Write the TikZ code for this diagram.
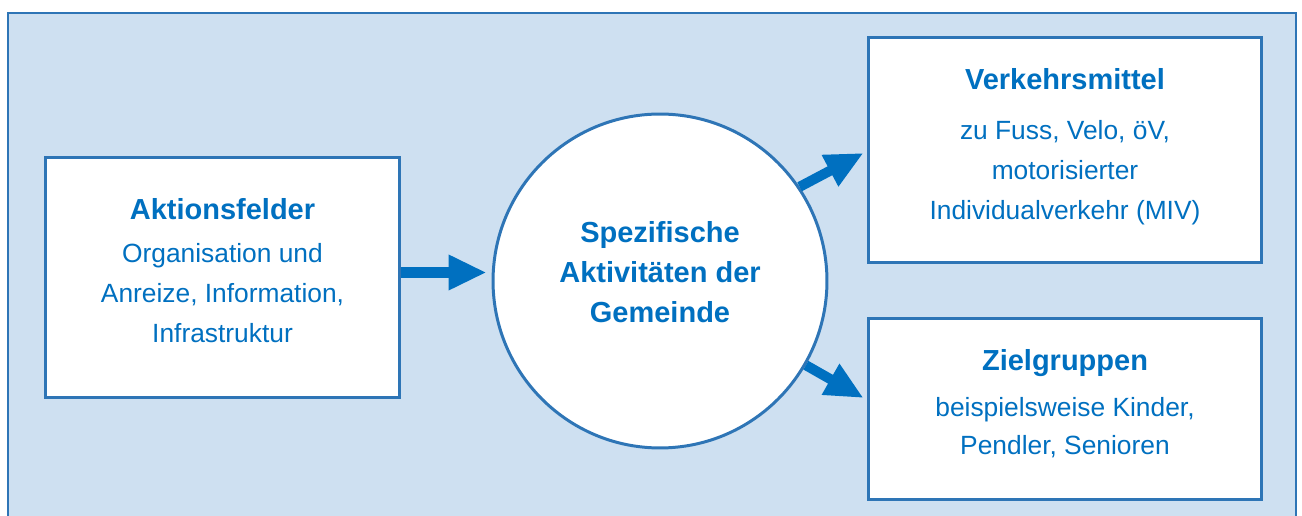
\documentclass[tikz,border=0pt]{standalone}
\usepackage{fontspec}
\setmainfont{Liberation Sans}
\usetikzlibrary{arrows.meta,positioning,calc}
\definecolor{rahmenblau}{RGB}{46,117,182}
\definecolor{textblau}{RGB}{0,112,192}
\definecolor{hellblau}{RGB}{206,224,241}
\newcommand{\titel}[1]{{\fontsize{16.5}{22.7}\selectfont\bfseries #1}}
% extra depth below the last line, lifts the text in its box
\newcommand{\tiefe}[1]{\rule[-#1]{0pt}{#1}}

\begin{document}
\begin{tikzpicture}[x=0.02cm,y=-0.02cm,
  kasten/.style={draw=rahmenblau,fill=white,line width=1.7pt,align=center,
    text=textblau,inner sep=0pt,font=\fontsize{15}{22.7}\selectfont},
  kreis/.style={kasten,circle,minimum size=6.68cm},
  pfeil/.style={draw=textblau,line width=5.7pt,
    -{Triangle[length=0.76cm,width=0.66cm]}}]
  % frame, open at the bottom
  \useasboundingbox (0,0) rectangle (1302,516);
  \draw[rahmenblau,fill=hellblau,line width=1.4pt] (8,13) rectangle (1296,540);

  % boxes and circle
  \node[kasten,minimum width=7.1cm,minimum height=4.82cm] (felder) at (222.5,277.5)
    {\titel{Aktionsfelder}\\[1.7pt]
     Organisation und\\ Anreize, Information,\\ Infrastruktur\tiefe{8pt}};
  \node[kreis] (aktiv) at (660,281)
    {\titel{Spezifische}\\ \titel{Aktivitäten der}\\ \titel{Gemeinde}\tiefe{10.2pt}};
  \node[kasten,minimum width=7.88cm,minimum height=4.52cm] (mittel) at (1065,150)
    {\titel{Verkehrsmittel}\\[5.6pt]
     zu Fuss, Velo, öV,\\ motorisierter\\ Individualverkehr (MIV)\tiefe{6.6pt}};
  \node[kasten,minimum width=7.88cm,minimum height=3.64cm] (gruppen) at (1065,409)
    {\titel{Zielgruppen}\\[3.4pt]
     beispielsweise Kinder,\\[-1.1pt] Pendler, Senioren\tiefe{7.9pt}};

  % arrows
  \draw[pfeil] ([shift={(0,-5)}]felder.east) -- ([shift={(-5,-5)}]felder.east -| aktiv.west);
  \draw[pfeil] (aktiv.34) -- ([shift={(-3,3)}]mittel.west);
  \draw[pfeil] (aktiv.-30) -- ([shift={(-3,-11)}]gruppen.west);
\end{tikzpicture}
\end{document}
